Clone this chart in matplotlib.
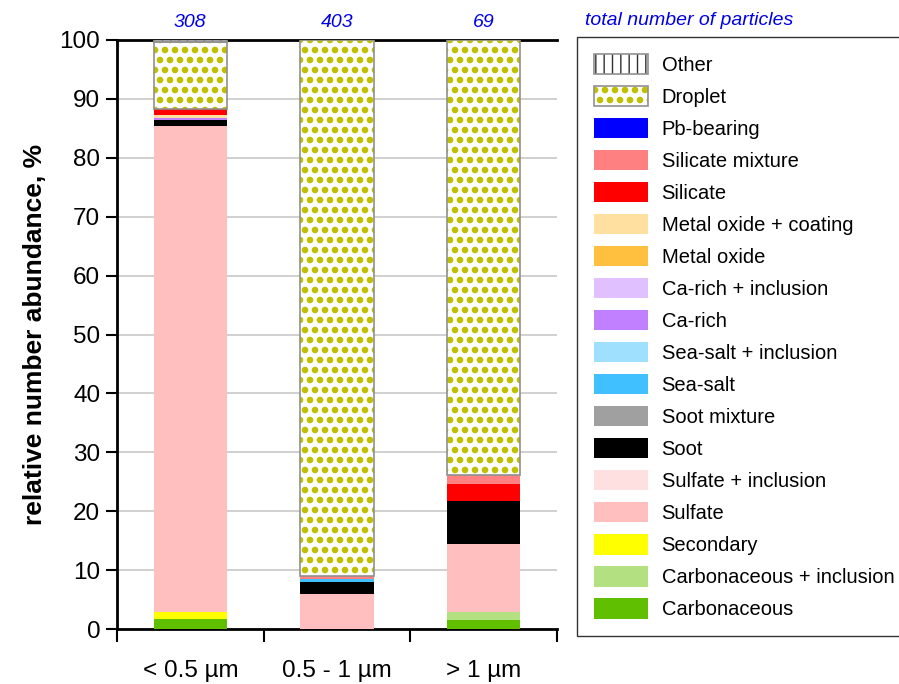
import matplotlib
matplotlib.use("Agg")
import matplotlib.pyplot as plt
from matplotlib import hatch as mhatch
from matplotlib.patches import Patch
from matplotlib.legend_handler import HandlerTuple
import numpy as np

# ---- data ----
size_bins = ["< 0.5 µm", "0.5 - 1 µm", "> 1 µm"]
totals = [308, 403, 69]
classes = ["Carbonaceous", "Carbonaceous + inclusion", "Secondary", "Sulfate",
           "Sulfate + inclusion", "Soot", "Soot mixture", "Sea-salt",
           "Sea-salt + inclusion", "Ca-rich", "Ca-rich + inclusion", "Metal oxide",
           "Metal oxide + coating", "Silicate", "Silicate mixture", "Pb-bearing",
           "Droplet", "Other"]
pct_small = [1.62, 0, 1.30, 82.47, 0, 0.97, 0, 0, 0, 0.32, 0, 0, 0.65, 0.97, 0, 0, 11.36, 0.32]
pct_mid = [0, 0, 0, 5.96, 0, 1.99, 0, 0.50, 0, 0, 0, 0, 0, 0, 0.50, 0, 91.07, 0]
pct_large = [1.45, 1.45, 0, 11.59, 0, 7.25, 0, 0, 0, 0, 0, 0, 0, 2.90, 1.45, 0, 73.91, 0]
colors = ["#60C000", "#B3E080", "#FFFF00", "#FFBFBF", "#FFE0E0", "#000000", "#A0A0A0",
          "#40C0FF", "#A0E0FF", "#C080FF", "#E0C0FF", "#FFC040", "#FFE0A0", "#FF0000",
          "#FF8080", "#0000FF", None, None]

# ---- custom filled-dot hatch (even number of rows required) ----
class BigDots(mhatch.Circles):
    size = 0.26
    filled = True
    def __init__(self, hatch, density):
        self.num_rows = hatch.count('.') * 10
        super().__init__(hatch, density)

mhatch._hatch_types = [BigDots if t is mhatch.SmallFilledCircles else t
                       for t in mhatch._hatch_types]

plt.rcParams['font.family'] = ['Liberation Sans', 'DejaVu Sans']
plt.rcParams['hatch.linewidth'] = 1.0

fig = plt.figure(figsize=(8.99, 6.84), dpi=100)
ax = fig.add_axes([117/899, 1-629/684, (557-117)/899, (629-40)/684])

data = np.array([pct_small, pct_mid, pct_large])
x = np.arange(len(size_bins))
bottom = np.zeros(len(size_bins))
width = 0.5
for i, cls in enumerate(classes):
    vals = data[:, i]
    m = vals > 0
    if cls == "Droplet":
        ax.bar(x[m], vals[m], width, bottom=bottom[m], facecolor='white', edgecolor='#C0C000',
               hatch='.', linewidth=0, zorder=3)
        ax.bar(x[m], vals[m], width, bottom=bottom[m], fill=False, edgecolor='#909090',
               linewidth=1.2, zorder=4)
    elif cls == "Other":
        ax.bar(x[m], vals[m], width, bottom=bottom[m], facecolor='white', edgecolor='#303030',
               hatch='||', linewidth=0, zorder=3)
        ax.bar(x[m], vals[m], width, bottom=bottom[m], fill=False, edgecolor='#909090',
               linewidth=1.2, zorder=4)
    else:
        ax.bar(x[m], vals[m], width, bottom=bottom[m], color=colors[i], linewidth=0, zorder=3)
    bottom += vals

ax.set_xlim(-0.5, 2.5)
ax.set_ylim(0, 100)
ax.set_yticks(np.arange(0, 101, 10))
ax.tick_params(axis='y', labelsize=17.5, length=8, width=1.5, direction='out', pad=4)
ax.set_xticks(x)
ax.set_xticklabels(size_bins)
ax.tick_params(axis='x', which='major', length=0, labelsize=17.5, pad=22)
ax.set_xticks([-0.5, 0.5, 1.5, 2.5], minor=True)
ax.tick_params(axis='x', which='minor', length=9, width=1.5, direction='out')
ax.yaxis.grid(True, color='#C8C8C8', linewidth=1.2, zorder=0)
ax.set_axisbelow(True)
for s in ['left', 'bottom', 'top']:
    ax.spines[s].set_linewidth(2)
ax.spines['right'].set_visible(False)
ax.set_ylabel("relative number abundance, %", fontsize=19, fontweight='bold', labelpad=9)

for xi, t in zip(x, totals):
    ax.text(xi, 102.9, str(t), ha='center', va='center', fontsize=14,
            style='italic', color='#0000E8')
fig.text(585/899, 1-20.5/684, "total number of particles", ha='left', va='center',
         fontsize=14, style='italic', color='#0000E8')

# ---- legend ----
handles = []
for i, cls in enumerate(classes):
    if cls == "Droplet":
        h = (Patch(facecolor='white', edgecolor='#C0C000', hatch='.', linewidth=0),
             Patch(fill=False, edgecolor='#909090', linewidth=1.2))
    elif cls == "Other":
        h = (Patch(facecolor='white', edgecolor='#303030', hatch='||', linewidth=0),
             Patch(fill=False, edgecolor='#909090', linewidth=1.2))
    else:
        h = Patch(facecolor=colors[i], linewidth=0)
    handles.append(h)

leg = fig.legend(handles[::-1], classes[::-1], loc='upper left',
                 bbox_to_anchor=(577/899, 1-37/684), fontsize=14.5,
                 handlelength=2.7, handleheight=1.19, handletextpad=0.68,
                 labelspacing=0.545, borderpad=0.82, borderaxespad=0,
                 frameon=True, fancybox=False, edgecolor='black',
                 handler_map={tuple: HandlerTuple(ndivide=1, pad=0)})
leg.get_frame().set_linewidth(1.0)

fig.savefig("out.png", dpi=100)
